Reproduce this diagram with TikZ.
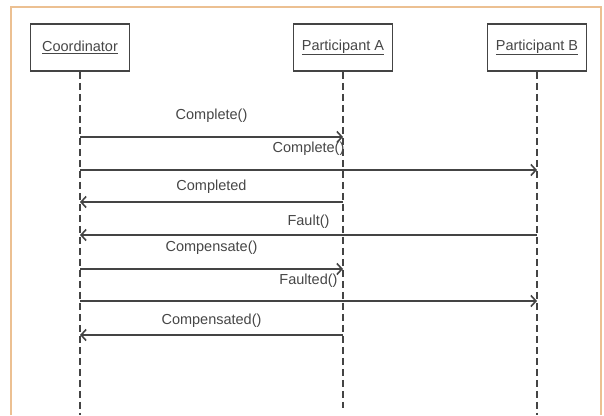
\documentclass[tikz,border=0pt]{standalone}
\usepackage{fontspec}
\setmainfont{Liberation Sans}
\usetikzlibrary{arrows.meta}
\definecolor{frameorange}{RGB}{236,192,146}
\definecolor{linegray}{RGB}{68,68,68}
\definecolor{textgray}{RGB}{70,70,70}

\begin{document}
\begin{tikzpicture}[x=1pt, y=-1pt,
        actor/.style={draw=linegray, line width=1.6pt, minimum width=99pt, minimum height=47pt,
            font=\fontsize{14.5}{16}\selectfont, text=textgray},
        lifeline/.style={draw=linegray, line width=1.6pt, dash pattern=on 7pt off 4pt},
        msg/.style={draw=linegray, line width=1.6pt, -{Straight Barb[length=5pt,width=11pt]}},
        lbl/.style={font=\fontsize{14.5}{16}\selectfont, text=textgray}]
    \useasboundingbox (0,0) rectangle (604,415);

    % Marco
    \draw[frameorange, line width=1.5pt] (11,415) -- (11,7) -- (601,7) -- (601,415);

    % Participantes
    \node[actor] (coord) at (80,47.5) {\underline{Coordinator}};
    \node[actor] (partA) at (343,47.5) {\underline{Participant A}};
    \node[actor] (partB) at (537,47.5) {\underline{Participant B}};

    % Lineas de vida
    \coordinate (coordEnd) at (80,415);
    \coordinate (partAEnd) at (343,408);
    \coordinate (partBEnd) at (537,415);
    \draw[lifeline] (coord) -- (coordEnd);
    \draw[lifeline] (partA) -- (partAEnd);
    \draw[lifeline] (partB) -- (partBEnd);

    % Mensajes
    \draw[msg] (coord |- 0,137) -- node[lbl, above=10pt] {Complete()} (partA |- 0,137);
    \draw[msg] (coord |- 0,170) -- node[lbl, above=10pt] {Complete()} (partB |- 0,170);
    \draw[msg] (partA |- 0,202) -- node[lbl, above=4pt] {Completed} (coord |- 0,202);
    \draw[msg] (partB |- 0,235) -- node[lbl, above=2pt] {Fault()} (coord |- 0,235);
    \draw[msg] (coord |- 0,269) -- node[lbl, above=10pt] {Compensate()} (partA |- 0,269);
    \draw[msg] (coord |- 0,301) -- node[lbl, above=9pt] {Faulted()} (partB |- 0,301);
    \draw[msg] (partA |- 0,335) -- node[lbl, above=3pt] {Compensated()} (coord |- 0,335);
\end{tikzpicture}
\end{document}
